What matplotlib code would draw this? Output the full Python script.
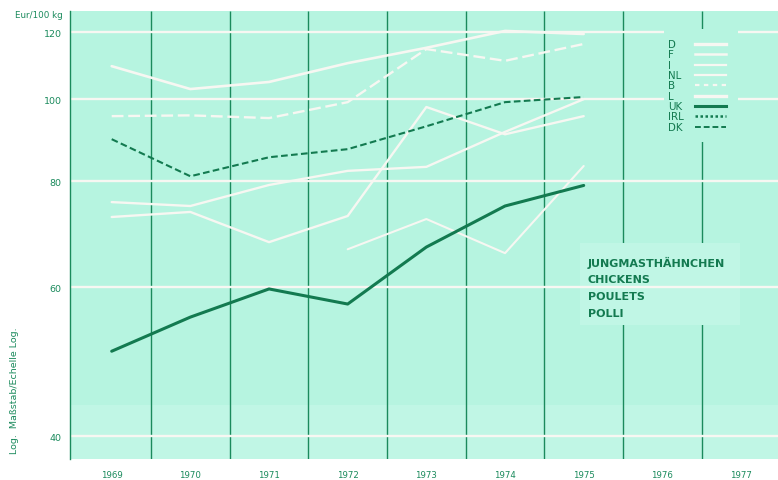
import matplotlib
matplotlib.use("Agg")
import matplotlib.pyplot as plt
from matplotlib.lines import Line2D
from matplotlib.patches import Rectangle
from matplotlib.ticker import FixedLocator, NullFormatter, NullLocator
import numpy as np

# Chicken prices, Eur/100 kg
years = [1969, 1970, 1971, 1972, 1973, 1974, 1975]
axis_years = [1969, 1970, 1971, 1972, 1973, 1974, 1975, 1976, 1977]

price_d = [109.4, 102.8, 104.8, 110.3, 115.0, 120.4, 119.4]
price_f = [75.6, 74.8, 79.2, 82.3, 83.2, 91.5, 100.0]
price_i = [72.6, 73.6, 67.8, 72.8, 97.9, 90.9, 95.5]
price_nl = [np.nan, np.nan, np.nan, 66.5, 72.2, 65.8, 83.4]
price_b = [95.5, 95.7, 95.0, 99.2, 114.6, 111.0, 116.2]
price_uk = [50.4, 55.3, 59.7, 57.3, 66.9, 74.8, 79.1]
price_dk = [89.7, 81.1, 85.4, 87.3, 92.9, 99.2, 100.6]

y_ticks = [40, 60, 80, 100, 120]
legend_labels = ["D", "F", "I", "NL", "B", "L", "UK", "IRL", "DK"]
title_lines = ["JUNGMASTHÄHNCHEN", "CHICKENS", "POULETS", "POLLI"]

MINT = "#b6f4e0"
MINT_LIGHT = "#c0f6e5"
GREEN = "#1a8a5c"
DARK = "#137a50"
WHITE = "#f7f7f2"

W, H = 778, 481
fig = plt.figure(figsize=(W / 100, H / 100), dpi=100, facecolor="white")
ax = fig.add_axes([70 / W, 21 / H, 708 / W, 448 / H])
ax.set_facecolor(MINT)

ax.set_yscale("log")
ax.set_ylim(37.6, 127.1)
ax.set_xlim(1968.47, 1977.47)

# faded band at the foot of the grid
ax.axhspan(37.6, 43.5, color=MINT_LIGHT, zorder=0.5, lw=0)

# vertical year dividers
ax.vlines([y + 0.5 for y in axis_years[:-1]], 37.6, 127.1,
          color=GREEN, lw=1.0, zorder=1)

# caption block background (hides the dividers, not the grid)
ax.add_patch(Rectangle(((580 - 70) / 708, (460 - 326) / 448), 160 / 708, 82 / 448,
                       transform=ax.transAxes, facecolor=MINT_LIGHT,
                       edgecolor="none", zorder=1.5))

# horizontal white grid at the labelled values
ax.hlines(y_ticks, 1968.47, 1977.47, color=WHITE, lw=1.7, zorder=2)

# white country lines
white_series = [
    (price_d, dict(lw=1.9, ls="-")),
    (price_f, dict(lw=1.7, ls="-")),
    (price_i, dict(lw=1.7, ls="-")),
    (price_nl, dict(lw=1.5, ls="-")),
    (price_b, dict(lw=1.7, ls=(0, (5, 2)))),
]
for vals, st in white_series:
    ax.plot(years, vals, color=WHITE, solid_capstyle="round", zorder=3, **st)

ax.plot(years, price_dk, color=DARK, lw=1.5, ls=(0, (3.2, 1.6)), zorder=4)
ax.plot(years, price_uk, color=DARK, lw=2.2, zorder=4, solid_capstyle="round")

# legend panel
ax.add_patch(Rectangle(((664 - 70) / 708, (460 - 143) / 448), 74 / 708, 113 / 448,
                       transform=ax.transAxes, facecolor=MINT,
                       edgecolor="none", zorder=2.5))
legend_styles = [
    dict(color=WHITE, lw=2.4, ls="-"),
    dict(color=WHITE, lw=1.8, ls="-"),
    dict(color=WHITE, lw=1.6, ls="-"),
    dict(color=WHITE, lw=1.6, ls="-"),
    dict(color=WHITE, lw=1.6, ls=(0, (2, 2))),
    dict(color=WHITE, lw=2.4, ls="-"),
    dict(color=DARK, lw=2.2, ls="-"),
    dict(color=DARK, lw=1.8, ls=(0, (1, 1))),
    dict(color=DARK, lw=1.4, ls=(0, (3, 1.5))),
]
for i, (lab, st) in enumerate(zip(legend_labels, legend_styles)):
    py = 45 + i * 10.35
    fy = (460 - py) / 448
    ax.text((668 - 70) / 708, fy, lab, transform=ax.transAxes, fontsize=7.4,
            color=DARK, va="center", ha="left", zorder=5)
    ax.add_line(Line2D([(695 - 70) / 708, (726 - 70) / 708], [fy, fy],
                       transform=ax.transAxes, zorder=5, **st))

# caption
for i, t in enumerate(title_lines):
    py = 263 + i * 17
    ax.text((588 - 70) / 708, (460 - py) / 448, t, transform=ax.transAxes,
            fontsize=8.0, color=DARK, va="center", ha="left", zorder=5,
            fontweight="semibold")

# axes styling
for s in ["top", "right", "bottom"]:
    ax.spines[s].set_visible(False)
ax.spines["left"].set_color(GREEN)
ax.spines["left"].set_linewidth(1.0)

ax.yaxis.set_major_locator(FixedLocator(y_ticks))
ax.yaxis.set_minor_locator(NullLocator())
ax.yaxis.set_minor_formatter(NullFormatter())
ax.set_yticklabels([str(v) for v in y_ticks])
ax.set_xticks(axis_years)
ax.set_xticklabels([str(y) for y in axis_years])
ax.tick_params(axis="y", length=0, pad=6, labelsize=6.8, labelcolor=GREEN)
ax.tick_params(axis="x", length=0, pad=8, labelsize=6.2, labelcolor=GREEN)

fig.text(63 / W, 1 - 15 / H, "Eur/100 kg", ha="right", va="center",
         fontsize=6.3, color=GREEN)
fig.text(15 / W, 1 - 391 / H, "Log.  Maßstab/Echelle Log.", ha="center",
         va="center", rotation=90, fontsize=6.8, color=GREEN)

fig.savefig("out.png", dpi=100, facecolor="white")
